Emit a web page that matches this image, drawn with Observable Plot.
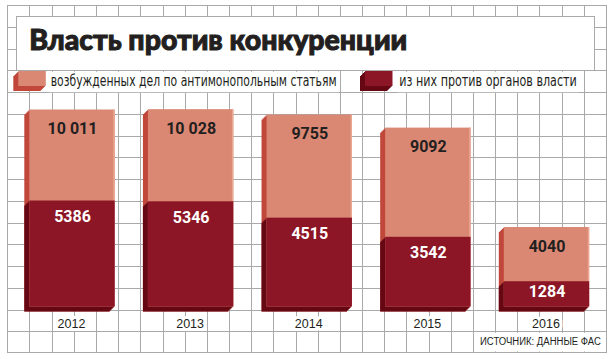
<!DOCTYPE html>
<html>
<head>
<meta charset="utf-8">
<script src="https://cdn.jsdelivr.net/npm/d3@7"></script>
<script src="https://cdn.jsdelivr.net/npm/@observablehq/plot@0.6"></script>
<style>
  html, body { margin: 0; padding: 0; background: white; }
  #wrap { position: relative; width: 613px; height: 359px; overflow: hidden; }
  #wrap > svg, #wrap > div { position: absolute; left: 0; top: 0; }
</style>
</head>
<body>
<div id="wrap"></div>
<script>
// ---- data ----
const years = ["2012", "2013", "2014", "2015", "2016"];
const totalCases = [10011, 10028, 9755, 9092, 4040];
const againstAuthorities = [5386, 5346, 4515, 3542, 1284];
const seriesNames = ["возбужденных дел по антимонопольным статьям", "из них против органов власти"];
const titleText = "Власть против конкуренции";
const sourceText = "ИСТОЧНИК: ДАННЫЕ ФАС";

// ---- styles ----
const lightFace = "#DA8873", lightSide = "#C0473A", lightEdge = "#EAA893";
const darkFace = "#8D1626", darkSide = "#660814";
const ink = "#231F20", gridColor = "#a9a9a9";

const data = years.map((year, i) => ({year, total: totalCases[i], dark: againstAuthorities[i]}));
const fmt = v => v >= 10000 ? d3.format(",")(v).replace(/,/g, " ") : String(v);

const W = 613, H = 359;
const wrap = d3.select("#wrap");

// ---- background: grid paper, title box, legend, source ----
const bg = wrap.append("svg").attr("width", W).attr("height", H);
const gx0 = 7.3, gx1 = 606, gy0 = 5, gy1 = 352, stepX = (gx1 - gx0) / 27, stepY = 21.75;
const px = v => Math.round(v) + 0.5;
for (let k = 0; k <= 27; k++) {
  bg.append("line").attr("x1", px(gx0 + k * stepX)).attr("x2", px(gx0 + k * stepX))
    .attr("y1", px(gy0)).attr("y2", px(gy1)).attr("stroke", gridColor);
}
for (let k = 0; gy0 + k * stepY < gy1 - 5; k++) {
  bg.append("line").attr("y1", px(gy0 + k * stepY)).attr("y2", px(gy0 + k * stepY))
    .attr("x1", px(gx0)).attr("x2", px(gx1)).attr("stroke", gridColor);
}
bg.append("rect").attr("x", px(gx0)).attr("y", px(gy0)).attr("width", px(gx1) - px(gx0))
  .attr("height", px(gy1) - px(gy0)).attr("fill", "none").attr("stroke", gridColor);

// title box
bg.append("rect").attr("x", 16.5).attr("y", 16.5).attr("width", 578).attr("height", 54)
  .attr("fill", "white").attr("stroke", gridColor);
bg.append("text").attr("x", 29.3).attr("y", 49.5).text(titleText)
  .attr("font-family", "Lato, 'DejaVu Sans', sans-serif").attr("font-weight", 900)
  .attr("font-size", 28).attr("fill", ink).attr("stroke", ink).attr("stroke-width", 1)
  .attr("textLength", 378).attr("lengthAdjust", "spacingAndGlyphs");

// legend
function swatch(x, y, w, h, face, side) {
  for (let i = 5; i >= 1; i--) {
    bg.append("rect").attr("x", x - i).attr("y", y + i).attr("width", w).attr("height", h).attr("fill", side);
  }
  bg.append("rect").attr("x", x).attr("y", y).attr("width", w).attr("height", h).attr("fill", face);
}
const legendItems = [
  {name: seriesNames[0], face: lightFace, side: lightSide, sx: 18.3, tx: 50.7, tl: 286},
  {name: seriesNames[1], face: darkFace, side: darkSide, sx: 365, tx: 399.3, tl: 177.5}
];
for (const it of legendItems) {
  swatch(it.sx, 71, 27.5, 15, it.face, it.side);
  bg.append("rect").attr("x", it.tx - 1.5).attr("y", 71.8).attr("width", it.tl + 3).attr("height", 20.4).attr("fill", "white");
  bg.append("text").attr("x", it.tx).attr("y", 86).text(it.name)
    .attr("font-family", "'DejaVu Sans Condensed', 'DejaVu Sans', sans-serif").attr("font-stretch", "condensed")
    .attr("font-size", 15).attr("fill", ink)
    .attr("textLength", it.tl).attr("lengthAdjust", "spacingAndGlyphs");
}

// source (narrowed with a measured horizontal scale)
bg.append("rect").attr("x", 478.5).attr("y", 332.8).attr("width", 127).attr("height", 18.6).attr("fill", "white");
const src = bg.append("text").attr("x", 0).attr("y", 0).text(sourceText)
  .attr("font-family", "'Liberation Sans Narrow', 'Liberation Sans', Arial, sans-serif")
  .attr("font-size", 11.5).attr("fill", ink);
const srcLen = src.node().getComputedTextLength() || 150;
src.attr("transform", `translate(480,345.3) scale(${Math.min(1, 121 / srcLen)},1)`);

// ---- bars with Plot ----
const depth = [1, 2, 3, 4, 5];
const valueFont = {fontFamily: "Roboto, 'DejaVu Sans', sans-serif", fontWeight: "bold", fontSize: 16};
const chart = Plot.plot({
  width: W,
  height: H,
  style: {background: "transparent", overflow: "visible"},
  x: {type: "band", domain: years, range: [29.3, 589.2], paddingInner: 0.28, paddingOuter: 0, round: false, axis: null},
  y: {domain: [0, 10011], range: [306.5, 109.5], axis: null},
  marks: [
    ...depth.map(i => Plot.barY(data, {x: "year", y: "total", fill: lightSide, dx: -i, dy: i})),
    ...depth.map(i => Plot.barY(data, {x: "year", y: "dark", fill: darkSide, dx: -i, dy: i})),
    Plot.barY(data, {x: "year", y: "total", fill: lightFace}),
    Plot.barY(data, {x: "year", y1: "dark", y2: "total", fill: lightEdge, insetLeft: 84}),
    Plot.barY(data, {x: "year", y: "dark", fill: darkFace}),
    Plot.text(data, {x: "year", y: "total", text: d => fmt(d.total), dy: 19, fill: ink, ...valueFont, ariaLabel: "values"}),
    Plot.text(data.filter(d => d.dark >= 2000), {x: "year", y: "dark", text: d => fmt(d.dark), dy: 16, fill: "white", ...valueFont, ariaLabel: "values"}),
    Plot.text(data.filter(d => d.dark < 2000), {x: "year", y: d => d.dark / 2, text: d => fmt(d.dark), dy: -2, fill: "white", ...valueFont, ariaLabel: "values"}),
    Plot.text(data, {x: "year", y: d => 0, text: "year", dy: 17, dx: -1, fill: ink, stroke: "white", strokeWidth: 6,
      fontFamily: "'Liberation Sans', Arial, sans-serif", fontSize: 12.5})
  ]
});
d3.select(chart).selectAll('g[aria-label="values"] text').style("letter-spacing", "1px");
wrap.node().appendChild(chart);
</script>
</body>
</html>
